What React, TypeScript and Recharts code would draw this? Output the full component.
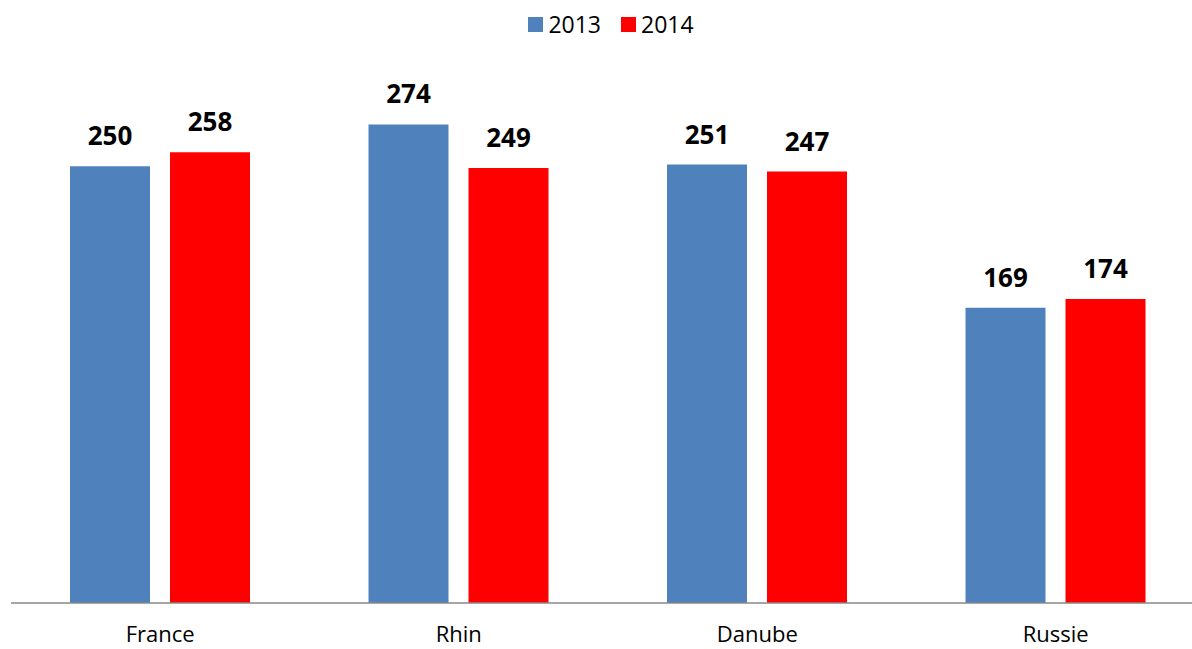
import React from "react";
import { BarChart, Bar, XAxis, YAxis, Legend, LabelList } from "recharts";

const categories = ["France", "Rhin", "Danube", "Russie"];
const values2013 = [250, 274, 251, 169];
const values2014 = [258, 249, 247, 174];
const seriesNames = ["2013", "2014"];
const colors = ["#4F81BD", "#FF0000"];

const data = categories.map((c, i) => ({
  name: c,
  s2013: values2013[i],
  s2014: values2014[i],
}));

const FONT = "'Open Sans', sans-serif";

const LegendContent = () => (
  <div
    style={{
      display: "flex",
      justifyContent: "center",
      alignItems: "center",
      fontFamily: FONT,
      fontSize: 23,
      lineHeight: "30px",
      color: "#000",
      boxSizing: "border-box",
      paddingLeft: 30,
      width: 1192,
    }}
  >
    {seriesNames.map((n, i) => (
      <div key={n} style={{ display: "flex", alignItems: "center", marginRight: i === 0 ? 20 : 0 }}>
        <span style={{ display: "inline-block", width: 15, height: 15, background: colors[i], marginRight: 5 }} />
        <span>{n}</span>
      </div>
    ))}
  </div>
);

export default function App() {
  return (
    <div style={{ position: "absolute", left: 0, top: 0, width: 1192, height: 649, overflow: "hidden", background: "#fff" }}>
      <BarChart
        width={1205}
        height={649}
        data={data}
        margin={{ top: 79, right: 0, left: 11, bottom: 6 }}
        barGap={20}
        barSize={80}
      >
        <XAxis
          dataKey="name"
          height={40}
          axisLine={{ stroke: "#898989", strokeWidth: 1.5 }}
          tickLine={false}
          tickSize={0}
          tickMargin={23}
          tick={{ fontSize: 22, fill: "#000", fontFamily: FONT }}
        />
        <YAxis hide domain={[0, 300]} />
        <Legend
          verticalAlign="middle"
          content={<LegendContent />}
          wrapperStyle={{ top: 9, left: 0, width: 1192 }}
        />
        <Bar dataKey="s2013" name="2013" fill={colors[0]} isAnimationActive={false}>
          <LabelList dataKey="s2013" position="top" offset={21} style={{ fontSize: 26, fontWeight: 700, fill: "#000", fontFamily: FONT }} />
        </Bar>
        <Bar dataKey="s2014" name="2014" fill={colors[1]} isAnimationActive={false}>
          <LabelList dataKey="s2014" position="top" offset={21} style={{ fontSize: 26, fontWeight: 700, fill: "#000", fontFamily: FONT }} />
        </Bar>
      </BarChart>
    </div>
  );
}
